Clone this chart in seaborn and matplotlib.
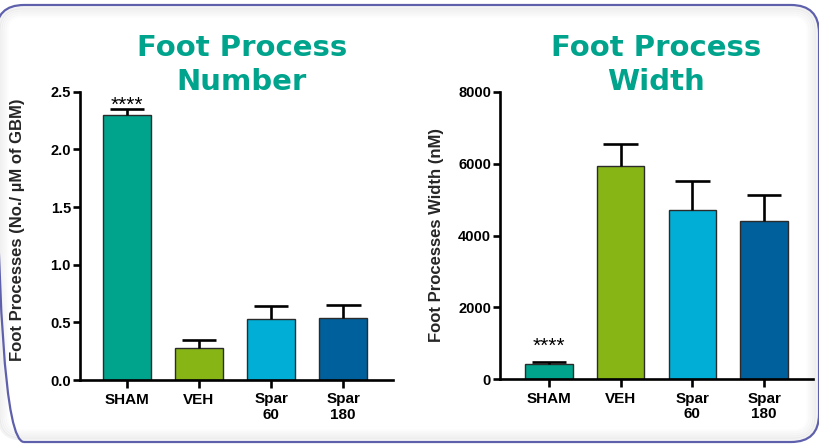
import matplotlib
matplotlib.use("Agg")
import matplotlib.pyplot as plt
from matplotlib.patches import FancyBboxPatch
from matplotlib.transforms import IdentityTransform
import seaborn as sns
import pandas as pd

# Group data
groups = ["SHAM", "VEH", "Spar 60", "Spar 180"]
tick_labels = ["SHAM", "VEH", "Spar\n60", "Spar\n180"]
colors = ["#00A38C", "#88B516", "#00AED6", "#00609B"]

fp_number_mean = [2.30, 0.28, 0.53, 0.54]
fp_number_upper = [2.35, 0.35, 0.64, 0.65]

fp_width_mean = [430, 5920, 4700, 4400]
fp_width_upper = [470, 6540, 5520, 5130]

title_color = "#00A38C"

sns.set_theme(style="ticks")
plt.rcParams["font.family"] = ["Liberation Sans", "DejaVu Sans"]

W, H = 820, 447
fig = plt.figure(figsize=(W / 100, H / 100), dpi=100)
fig.patch.set_facecolor("white")

# Rounded panel frame with a soft inner shadow
for i, a in enumerate([0.09, 0.07, 0.05, 0.035, 0.02]):
    inset = 3 + i * 2
    sh = FancyBboxPatch((-4 + inset, 5 + inset), 823 - 2 * inset, 437 - 2 * inset,
                        boxstyle=f"round,pad=0,rounding_size={max(26 - inset, 6)}",
                        transform=IdentityTransform(), facecolor="none",
                        edgecolor="#808080", linewidth=2.2, alpha=a, zorder=0)
    fig.add_artist(sh)
frame = FancyBboxPatch((-4, 5), 823, 437, boxstyle="round,pad=0,rounding_size=28",
                       transform=IdentityTransform(), facecolor="none",
                       edgecolor="#5F60AC", linewidth=1.6, zorder=1)
fig.add_artist(frame)


def px_axes(x0, x1, ytop, ybot):
    return [x0 / W, 1 - ybot / H, (x1 - x0) / W, (ybot - ytop) / H]


def draw_panel(ax, means, uppers, ylim, yticks, yticklabels, ylabel, label_pos,
               title, title_x, star_y, xlim):
    df = pd.DataFrame({"group": groups, "value": means})
    sns.barplot(data=df, x="group", y="value", hue="group", palette=colors,
                order=groups, hue_order=groups, legend=False, errorbar=None,
                width=0.66, edgecolor="#2b2b2b", linewidth=1.0, ax=ax,
                saturation=1)
    pos = list(range(len(groups)))
    ax.vlines(pos, means, uppers, color="black", linewidth=1.9, zorder=3)
    ax.hlines(uppers, [p - 0.24 for p in pos], [p + 0.24 for p in pos],
              color="black", linewidth=1.9, zorder=3)
    ax.text(0, star_y, "****", ha="center", va="center", fontsize=15,
            color="black")
    ax.set_ylim(*ylim)
    ax.set_xlim(*xlim)
    ax.set_yticks(yticks)
    ax.set_yticklabels(yticklabels, fontsize=10.5, fontweight="bold")
    ax.set_xticks(pos)
    ax.set_xticklabels(tick_labels, fontsize=11, fontweight="bold",
                       linespacing=1.15)
    ax.set_xlabel("")
    ax.set_ylabel(ylabel, fontsize=12, fontweight="bold")
    ax.yaxis.set_label_coords(*label_pos)
    for s in ["top", "right"]:
        ax.spines[s].set_visible(False)
    for s in ["left", "bottom"]:
        ax.spines[s].set_linewidth(1.9)
        ax.spines[s].set_color("black")
    ax.tick_params(axis="both", direction="out", width=1.9, length=5,
                   color="black", pad=1.5, labelcolor="black")
    ax.tick_params(axis="x", length=6, pad=3)
    ax.set_facecolor("none")
    fig.text(title_x / W, 1 - 65 / H, title, ha="center", va="center",
             fontsize=21, fontweight="bold", color=title_color,
             linespacing=1.3, family="DejaVu Sans")


ax1 = fig.add_axes(px_axes(80, 393, 91.7, 380))
draw_panel(ax1, fp_number_mean, fp_number_upper, (0, 2.5),
           [0, 0.5, 1.0, 1.5, 2.0, 2.5],
           ["0.0", "0.5", "1.0", "1.5", "2.0", "2.5"],
           "Foot Processes (No./ µM of GBM)", (-0.176, 0.52),
           "Foot Process\nNumber", 242, 2.38, (-0.65, 3.69))

ax2 = fig.add_axes(px_axes(500, 813, 91.7, 379.3))
draw_panel(ax2, fp_width_mean, fp_width_upper, (0, 8000),
           [0, 2000, 4000, 6000, 8000],
           ["0", "2000", "4000", "6000", "8000"],
           "Foot Processes Width (nM)", (-0.179, 0.5),
           "Foot Process\nWidth", 656, 930, (-0.68, 3.68))

fig.savefig("out.png", dpi=100, facecolor="white")
